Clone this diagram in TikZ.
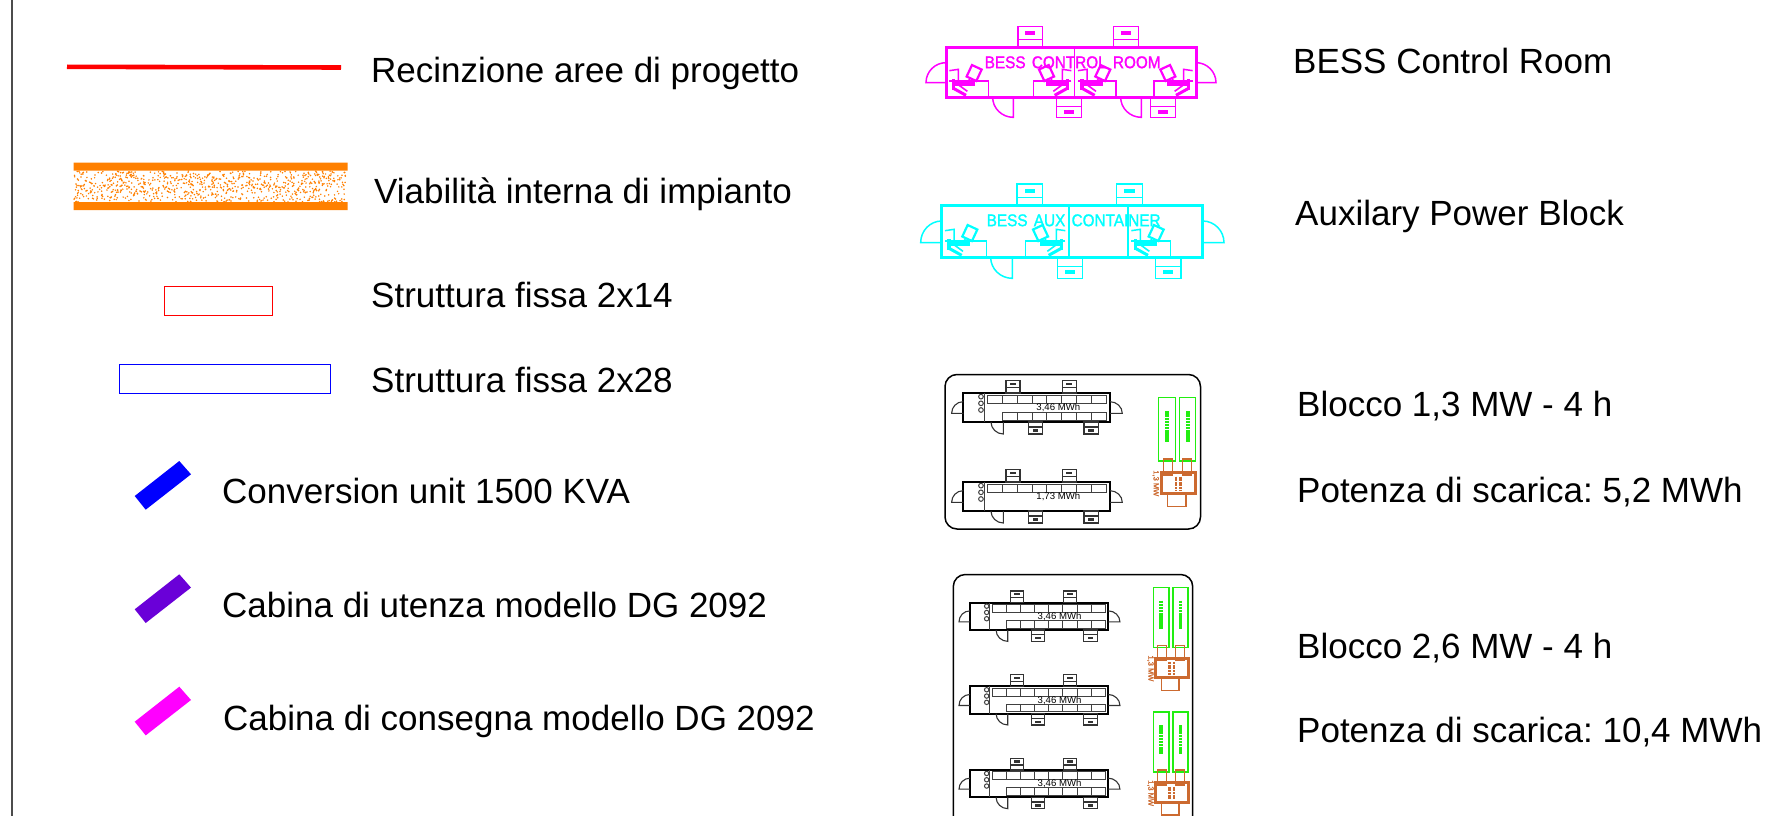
\documentclass[tikz,border=0pt]{standalone}
\usepackage{fontspec}
\setmainfont{Liberation Sans}
\newfontfamily\cadfont[FakeBold=1.6]{Liberation Sans}
\newfontfamily\cadthin{Liberation Sans}
\definecolor{roadorange}{HTML}{FF8000}
\definecolor{mag}{HTML}{FF00FF}
\definecolor{cya}{HTML}{00FFFF}
\definecolor{purp}{HTML}{6A00D8}
\definecolor{pvgreen}{HTML}{22EE11}
\definecolor{trafo}{HTML}{CC6A30}
\tikzset{
  legendtext/.style={anchor=base west,inner sep=0pt,font=\frenchspacing\fontsize{35}{38}\selectfont,text=black},
  wall/.style={line width=3pt},
  thin line/.style={line width=1.5pt},
  z3/.style={x=0.33333pt,y=-0.33333pt},
  cadlabel/.style={inner sep=0pt,xscale=.9,font=\cadfont\fontsize{17}{18}\selectfont},
  small label/.style={inner sep=0pt,font=\cadthin\fontsize{9.6}{10}\selectfont,text=black},
}
% door with horizontal leaf
\newcommand{\doorH}[4]{\draw[thin line] ({#1},{#2+#4}) .. controls ({#1+.55*#3},{#2+#4}) and ({#1+#3},{#2+.55*#4}) .. ({#1+#3},{#2}) -- ({#1},{#2});}
% door with vertical leaf
\newcommand{\doorV}[4]{\draw[thin line] ({#1+#3},{#2}) .. controls ({#1+#3},{#2+.55*#4}) and ({#1+.55*#3},{#2+#4}) .. ({#1},{#2+#4}) -- ({#1},{#2});}
% tab: x1 y1 x2 y2 yline yblob
\newcommand{\tabbox}[6]{\draw[thin line] (#1,#2) rectangle (#3,#4) (#1,#5) -- (#3,#5);
  \fill ({(#1+#3)/2-(#3-#1)*.2},{#6-6}) rectangle ({(#1+#3)/2+(#3-#1)*.2},{#6+6});}
% workstation: x, floor y, direction, width
\newcommand{\deskunit}[4]{\begin{scope}[shift={(#1,#2)},xscale=#3]
  \draw[thin line] (0,-45) -- (#4,-45) -- (#4,0);
  \draw[thin line] (0,-76) -- (27,-80) -- (27,-45);
  \draw[line width=2.2pt,rotate around={-25:(74,-68)}] (58,-88) rectangle (90,-50);
  \draw[line width=2pt] (58,-50) -- (64,-42);
  \fill (16,-44) rectangle (76,-30);
  \draw[line width=3.4pt] (12,-50) -- (12,-18);
  \draw[line width=3pt] (14,-22) -- (50,-2);
  \draw[line width=1.6pt] (24,-36) -- (54,-14);
\end{scope}}
% battery container: x, y, scale, lower row?, label
\newcommand{\battery}[5]{\begin{scope}[shift={(#1,#2)},z3,scale=#3]
  \draw[line width=2pt] (0,0) rectangle (440,87);
  \draw[line width=1.1pt,black!75] (63,0) -- (63,87);
  \foreach \k in {0,...,7} \draw[line width=1pt,black!75] ({72+44.75*\k},6) rectangle ({72+44.75*(\k+1)},31);
  \ifnum#4=1 \foreach \k in {1,...,7} \draw[line width=1pt,black!75] ({72+44.75*\k},57) rectangle ({72+44.75*(\k+1)},81);\fi
  \foreach \cy in {11,31,51} \draw[line width=1pt,black!75] (53,\cy) circle[radius=7];
  \draw[line width=1.1pt,black!80] (0,26) .. controls (-20,26) and (-35,42) .. (-35,61) -- (0,61);
  \draw[line width=1.1pt,black!80] (440,26) .. controls (460,26) and (477,42) .. (477,61) -- (440,61);
  \draw[line width=1.1pt,black!80] (83,87) .. controls (83,107) and (100,123) .. (120,123) -- (120,87);
  \foreach \tx in {128,297} {\draw[line width=1.3pt,black!80] (\tx,-37) rectangle ({\tx+42},0) (\tx,-16) -- ({\tx+42},-16); \fill[black!80] ({\tx+12},-31) rectangle ({\tx+30},-23);}
  \foreach \tx in {195,362} {\draw[line width=1.3pt,black!80] (\tx,87) rectangle ({\tx+43},123) (\tx,102) -- ({\tx+43},102); \fill[black!80] ({\tx+13},109) rectangle ({\tx+30},117);}
  \node[small label] (lab#1x#2) at (285,44) {#5};
\end{scope}}
% green PV pair with transformer: x, y, scale
\newcommand{\powerset}[3]{\begin{scope}[shift={(#1,#2)},z3,scale=#3]
  \draw[pvgreen,line width=1.5pt] (0,0) rectangle (50,191) (62,0) rectangle (111,191);
  \draw[pvgreen,line width=3.6pt,dash pattern=on 2.6pt off .5pt] (25,42) -- (25,133) (87,42) -- (87,133);
  \draw[trafo,line width=1.5pt] (14,185) rectangle (42,233) (71,185) rectangle (99,233) (26,288) rectangle (82,328);
  \draw[trafo,line width=3pt] (7,225) rectangle (111,288);
  \draw[trafo,line width=2.8pt,dash pattern=on 2pt off .6pt] (52,238) -- (52,278) (66,238) -- (66,278);
  \node[inner sep=0pt,rotate=-90,text=trafo,font=\cadfont\fontsize{7.5}{8}\selectfont] (mw#1x#2) at (-9,258) {1,3 MW};
\end{scope}}
\begin{document}
\begin{tikzpicture}[x=1pt,y=-1pt]
\clip (0,0) rectangle (1773,816);
\fill[white] (0,0) rectangle (1773,816);
\draw[line width=2.2pt,black!70] (12,0) -- (12,816);
% fence
\draw[red,line width=4.6pt] (67,66.8) -- (341,67.5);
% road
\fill[roadorange] (73.5,162.5) rectangle (347.5,170.5) (73.5,202) rectangle (347.5,210);
\pgfmathsetseed{11}
\fill[roadorange] \foreach \i in {1,...,850} { ({74+273*rnd},{171+31*rnd}) circle[radius=.85pt] };
% structures
\draw[red,line width=1pt] (164,286) rectangle (272.5,315.5);
\draw[blue,line width=1pt] (119,364) rectangle (330,393.5);
% slanted cabins
\foreach \c/\dy in {blue/0,purp/113.3,mag/225.7}
  \fill[\c] (179.3,461+\dy) -- (191,474.3+\dy) -- (145.7,509.7+\dy) -- (134.7,496+\dy) -- cycle;
% legend text
\node[legendtext] (t1) at (371,82) {Recinzione aree di progetto};
\node[legendtext] (t2) at (374,203) {Viabilità interna di impianto};
\node[legendtext] (t3) at (371,307.5) {Struttura fissa 2x14};
\node[legendtext] (t4) at (371,392) {Struttura fissa 2x28};
\node[legendtext] (t5) at (222,503.5) {Conversion unit 1500 KVA};
\node[legendtext] (t6) at (222,617) {Cabina di utenza modello DG 2092};
\node[legendtext] (t7) at (223,730) {Cabina di consegna modello DG 2092};
\node[legendtext] (t8) at (1293,74) {BESS Control Room};
\node[legendtext] (t9) at (1295,225.5) {Auxilary Power Block};
\node[legendtext] (t10) at (1297,416) {Blocco 1,3 MW - 4 h};
\node[legendtext] (t11) at (1297,502) {Potenza di scarica: 5,2 MWh};
\node[legendtext] (t12) at (1297,658) {Blocco 2,6 MW - 4 h};
\node[legendtext] (t13) at (1297,742) {Potenza di scarica: 10,4 MWh};
% control room
\begin{scope}[shift={(900pt,-10pt)},z3,mag,text=mag]
  \draw[wall] (138,113) rectangle (888,262);
  \draw[thin line] (524,113) -- (524,262);
  \doorH{138}{218}{-60}{-60}
  \doorH{888}{218}{60}{-60}
  \doorV{340}{262}{-62}{60}
  \doorV{724}{262}{-62}{60}
  \tabbox{354}{50}{428}{113}{88}{70}
  \tabbox{640}{50}{715}{113}{88}{70}
  \tabbox{470}{262}{545}{322}{290}{307}
  \tabbox{752}{262}{826}{322}{290}{307}
  \deskunit{148}{258}{1}{117}
  \deskunit{514}{258}{-1}{113}
  \deskunit{534}{258}{1}{114}
  \deskunit{878}{258}{-1}{116}
  \node[cadlabel] (crlabel) at (518,157) {BESS\hspace{7pt}CONTROL\hspace{7pt}ROOM};
\end{scope}
% aux
\begin{scope}[shift={(900pt,-170pt)},z3,cya,text=cya]
  \draw[wall] (125,105) rectangle (908,262);
  \draw[line width=2pt] (506,105) -- (506,262) (684,105) -- (684,262);
  \doorH{125}{218}{-63}{-65}
  \doorH{908}{218}{64}{-65}
  \doorV{337}{262}{-65}{63}
  \tabbox{351}{42}{428}{105}{82}{62}
  \tabbox{650}{42}{727}{105}{82}{62}
  \tabbox{472}{262}{548}{325}{290}{307}
  \tabbox{767}{262}{843}{325}{290}{307}
  \deskunit{135}{258}{1}{125}
  \deskunit{496}{258}{-1}{120}
  \deskunit{694}{258}{1}{118}
  \node[cadlabel] (auxlabel) at (521,151) {BESS\hspace{7pt}AUX\hspace{7pt}CONTAINER};
\end{scope}
% block 1
\draw[line width=1.5pt,rounded corners=12pt] (945,374.5) rectangle (1200.5,529);
\battery{963.3pt}{-393pt}{1}{1}{3,46 MWh}
\battery{963.3pt}{-482pt}{1}{0}{1,73 MWh}
\powerset{1158.7pt}{-397.3pt}{1}
% block 2
\draw[line width=1.5pt,rounded corners=12pt] (953.3,830) -- (953.3,574.5) -- (1192.7,574.5) -- (1192.7,830);
\battery{970pt}{-602.7pt}{.943}{1}{3,46 MWh}
\battery{970pt}{-686.3pt}{.943}{1}{3,46 MWh}
\battery{970pt}{-770pt}{.943}{1}{3,46 MWh}
\powerset{1153.3pt}{-587.3pt}{.943}
\powerset{1153.3pt}{-712pt}{.943}
\end{tikzpicture}
\end{document}
